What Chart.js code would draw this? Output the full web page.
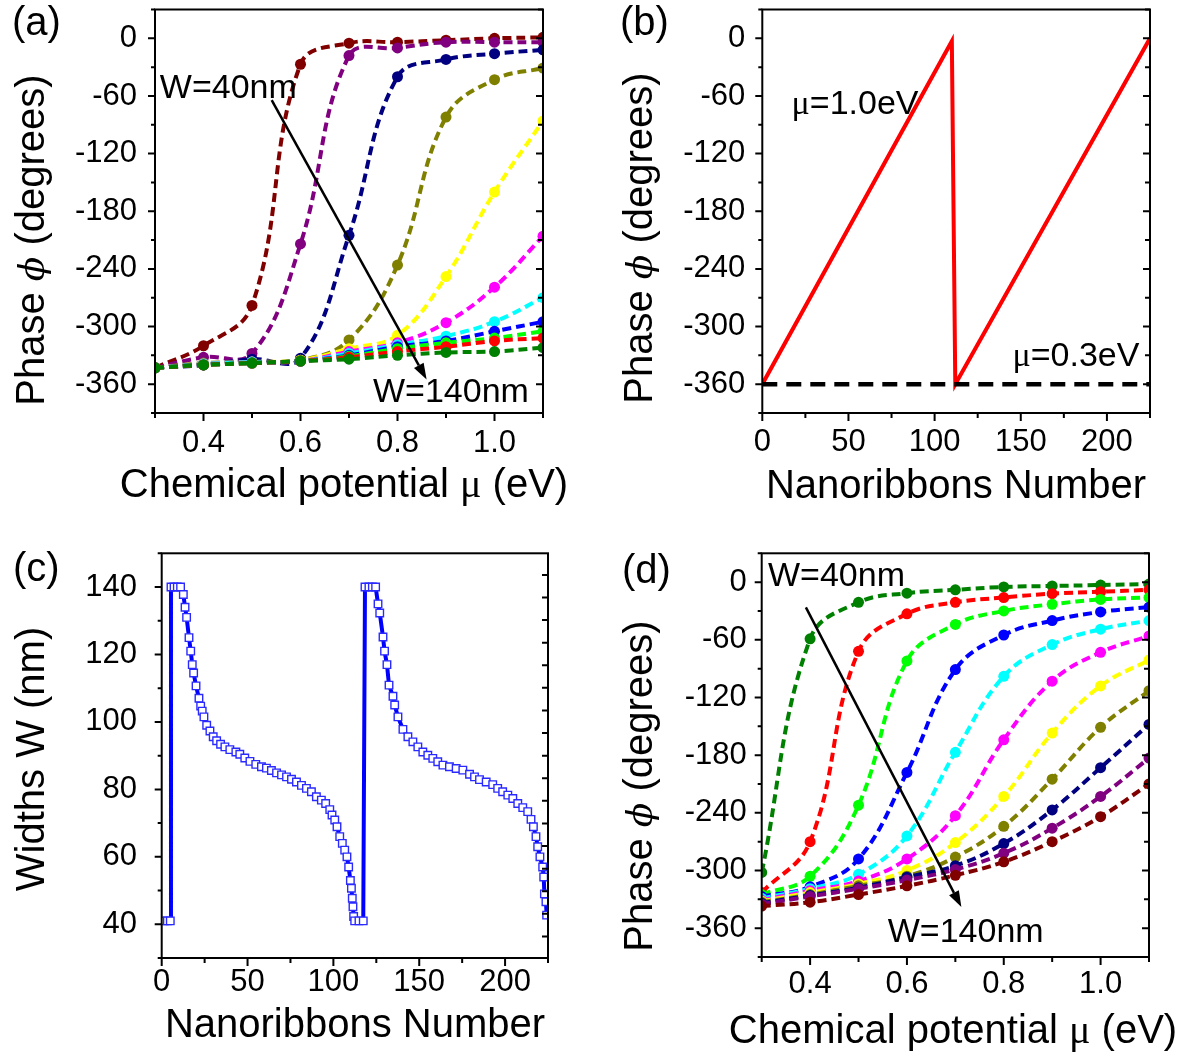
<!DOCTYPE html>
<html>
<head>
<meta charset="utf-8">
<title>Phase and width of graphene nanoribbons</title>
<script src="https://cdn.jsdelivr.net/npm/chart.js@4.4.1/dist/chart.umd.min.js"></script>
<style>
  html, body { margin: 0; padding: 0; background: #fff; }
  #fig { position: relative; width: 1195px; height: 1057px; }
  #fig canvas { position: absolute; }
</style>
</head>
<body>
<div id="fig">
  <canvas id="chartA" width="597" height="528" style="left:0;top:0"></canvas>
  <canvas id="chartB" width="598" height="528" style="left:597px;top:0"></canvas>
  <canvas id="chartC" width="597" height="529" style="left:0;top:528px"></canvas>
  <canvas id="chartD" width="598" height="529" style="left:597px;top:528px"></canvas>
</div>
<script>
// Four panels: phase vs chemical potential (a, d), phase along the array (b)
// and the ribbon widths along the array (c).

const SANS = "'Liberation Sans', Arial, sans-serif";
const SERIF = "'Liberation Serif', 'Times New Roman', serif";

const muValues = [0.3, 0.4, 0.5, 0.6, 0.7, 0.8, 0.9, 1.0, 1.1];
const widthLabels = ['40', '50', '60', '70', '80', '90', '100', '110', '120', '130', '140'];

// (a) phase in degrees, rows go from W=40nm to W=140nm
const phaseA = [
  [-343, -320, -278, -27, -5, -4, -2, 0, 1],
  [-343, -332, -328, -214, -18, -10, -4, -4, -4],
  [-343, -340, -334, -333, -205, -40, -22, -16, -12],
  [-343, -338, -337, -335, -314, -236, -82, -43, -31],
  [-343, -339, -337, -335, -323, -309, -248, -160, -86],
  [-343, -339, -337, -336, -326, -317, -296, -259, -206],
  [-343, -339, -337, -336, -328, -319, -310, -295, -270],
  [-343, -340, -338, -336, -330, -321, -315, -305, -295],
  [-343, -340, -338, -336, -331, -323, -317, -312, -305],
  [-343, -340, -338, -336, -332, -326, -321, -315, -312],
  [-343, -340, -338, -336, -334, -330, -327, -326, -322]
];
const colorsA = ['#800000', '#800080', '#000080', '#808000', '#ffff00', '#ff00ff',
                 '#00ffff', '#0000ff', '#00ff00', '#ff0000', '#008000'];

// (d) phase in degrees, rows go from W=40nm to W=140nm
const phaseD = [
  [-302, -59, -21, -11.5, -8, -5, -4, -3, -2],
  [-323, -270, -72, -33, -21, -16, -12, -10, -8],
  [-325, -306, -232, -82, -44, -30, -23, -18, -16],
  [-327, -317, -288, -198, -91, -55, -40, -31, -26],
  [-329, -319, -304, -264, -177, -98, -65, -49, -40],
  [-331, -321, -311, -288, -243, -164, -103, -73, -56],
  [-332, -323, -314, -300, -271, -223, -157, -108, -81],
  [-333, -325, -316, -306, -286, -254, -205, -151, -113],
  [-334, -326, -318, -307, -295, -272, -237, -193, -148],
  [-335, -327, -319, -310, -299, -282, -256, -223, -183],
  [-337, -333, -325, -316, -305, -291, -270, -244, -210]
];
const colorsD = ['#008000', '#ff0000', '#00ff00', '#0000ff', '#00ffff', '#ff00ff',
                 '#ffff00', '#808000', '#000080', '#800080', '#800000'];

// (b) phase along the array for two chemical potentials
const ribbonB10 = [0, 110, 112, 225];
const phaseB10 = [-360, -3, -360, 0];
const ribbonB03 = [0, 225];
const phaseB03 = [-360, -360];

// (c) widths along the array
const ribbonC = [1.4, 3.3, 5.0, 5.4, 7.2, 9.1, 11.0, 12.6, 13.6, 14.5, 15.9, 16.9, 17.8, 18.6, 20.0,
  21.7, 22.7, 23.6, 24.6, 26.2, 28.1, 30.0, 32.0, 34.3, 36.8, 39.7, 43.2, 45.5, 48.4, 51.4, 54.8,
  58.1, 61.0, 63.9, 66.9, 69.8, 72.7, 75.6, 78.5, 81.4, 84.3, 87.2, 90.1, 93.0, 95.5, 97.9, 99.2,
  100.8, 102.1, 103.7, 105.2, 106.6, 107.9, 108.9, 109.9, 110.5, 111.0, 111.4, 111.8, 112.4, 114.9,
  117.4, 118.4, 120.7, 122.7, 124.6, 126.0, 127.0, 128.9, 129.8, 131.2, 132.4, 134.7, 135.7, 137.6,
  140.5, 143.4, 146.3, 149.2, 152.1, 155.0, 157.9, 160.8, 163.8, 167.6, 171.5, 175.4, 179.3, 182.2,
  185.1, 189.0, 192.8, 195.7, 198.6, 201.6, 204.5, 207.4, 210.3, 213.2, 215.1, 216.5, 218.0, 219.0,
  220.3, 221.9, 222.5, 222.9, 223.8, 224.2];
const widthC = [41, 41, 41, 140, 140, 140, 140, 137.8, 134, 131, 125, 121, 117, 114.5, 110.7,
  107, 104.7, 103.2, 101.5, 99, 97.3, 95.6, 94.4, 93.4, 92.6, 91.8, 91.1, 90.4, 89.3, 88.3, 87.4,
  86.7, 86.3, 85.6, 84.9, 84.3, 83.7, 83, 82.2, 81.2, 80.3, 79.3, 77.8, 76.8, 75.8, 74, 72.4,
  70.9, 68.9, 66, 64, 62, 60, 57, 53, 50.7, 47.7, 45.2, 42.3, 41, 41,
  41, 140, 140, 140, 140, 135, 132.3, 125.2, 121, 117, 110.9, 107.6, 105, 101.5,
  97.8, 95.6, 94.1, 92.6, 91.1, 90.1, 89.2, 88.2, 87.2, 86.7, 86.2, 85.7, 84.5, 83.7,
  82.9, 82.2, 81.4, 80.3, 79.3, 78.3, 77.3, 75.8, 74.6, 73.4, 71.1, 68.9, 66, 63,
  60, 57, 54, 49, 46.7, 42.7];

// tick values
const phaseTicks = [0, -60, -120, -180, -240, -300, -360];
const phaseMinor = [30, -30, -90, -150, -210, -270, -330, -390];
const muTicks = [0.4, 0.6, 0.8, 1.0];
const muMinor = [0.3, 0.5, 0.7, 0.9, 1.1];
const ribbonTicks = [0, 50, 100, 150, 200];
const ribbonMinor = [25, 75, 125, 175, 225];
const widthTicks = [40, 60, 80, 100, 120, 140];
const widthMinor = [30, 50, 70, 90, 110, 130, 150];
const widthRightTicks = [143.6, 136.9, 130.2, 123.5, 116.8, 110.1, 103.4, 96.7, 90, 83.3,
  76.6, 69.9, 63.2, 56.5, 49.8, 43.1, 36.4];

// Frame round the plot area, ticks out on left/bottom and in on the right.
const framePlugin = {
  id: 'frame',
  afterDatasetsDraw(chart, args, o) {
    const { ctx, chartArea: a, scales: { x, y } } = chart;
    ctx.save();
    ctx.strokeStyle = '#000';
    ctx.lineWidth = 2;
    ctx.beginPath();
    const seg = (x1, y1, x2, y2) => { ctx.moveTo(x1, y1); ctx.lineTo(x2, y2); };
    o.xMajor.forEach(v => { const p = x.getPixelForValue(v); seg(p, a.bottom, p, a.bottom + 8); });
    o.xMinor.forEach(v => { const p = x.getPixelForValue(v); seg(p, a.bottom, p, a.bottom + 5); });
    o.yMajor.forEach(v => { const p = y.getPixelForValue(v); seg(a.left - 7, p, a.left, p); });
    o.yMinor.forEach(v => { const p = y.getPixelForValue(v); seg(a.left - 4, p, a.left, p); });
    if (o.yRight) {
      o.yRight.forEach(v => { const p = y.getPixelForValue(v); seg(a.right - 6, p, a.right, p); });
    } else {
      o.yMajor.forEach(v => { const p = y.getPixelForValue(v); seg(a.right - 7, p, a.right, p); });
      o.yMinor.forEach(v => { const p = y.getPixelForValue(v); seg(a.right - 5, p, a.right, p); });
    }
    ctx.stroke();
    ctx.strokeRect(a.left, a.top, a.right - a.left, a.bottom - a.top);
    ctx.restore();
  }
};

// Text drawn in pieces so that greek letters can use their own font.
function drawRich(ctx, parts, x, y, align, rotate) {
  ctx.save();
  ctx.translate(x, y);
  if (rotate) ctx.rotate(-Math.PI / 2);
  ctx.textBaseline = 'alphabetic';
  ctx.textAlign = 'left';
  ctx.fillStyle = '#000';
  let total = 0;
  parts.forEach(p => { ctx.font = p[1]; total += ctx.measureText(p[0]).width; });
  let cx = align === 'center' ? -total / 2 : 0;
  parts.forEach(p => {
    ctx.font = p[1];
    ctx.fillText(p[0], cx, 0);
    cx += ctx.measureText(p[0]).width;
  });
  ctx.restore();
}

// Panel letter, axis titles, notes and arrows.
const textPlugin = {
  id: 'texts',
  afterDraw(chart, args, o) {
    const { ctx, scales: { x, y } } = chart;
    drawRich(ctx, [[o.letter, '40px ' + SANS]], o.letterPos[0], o.letterPos[1], 'left', false);
    drawRich(ctx, o.xTitle, o.xTitlePos[0], o.xTitlePos[1], 'center', false);
    drawRich(ctx, o.yTitle, o.yTitlePos[0], o.yTitlePos[1], 'center', true);
    (o.notes || []).forEach(n => {
      drawRich(ctx, n.parts, x.getPixelForValue(n.x), y.getPixelForValue(n.y), 'left', false);
    });
    (o.arrows || []).forEach(ar => {
      const x1 = x.getPixelForValue(ar.from[0]), y1 = y.getPixelForValue(ar.from[1]);
      const x2 = x.getPixelForValue(ar.to[0]), y2 = y.getPixelForValue(ar.to[1]);
      const ang = Math.atan2(y2 - y1, x2 - x1);
      const head = 16, half = 5.5;
      ctx.save();
      ctx.strokeStyle = '#000';
      ctx.fillStyle = '#000';
      ctx.lineWidth = 2.5;
      ctx.beginPath();
      ctx.moveTo(x1, y1);
      ctx.lineTo(x2 - head * Math.cos(ang), y2 - head * Math.sin(ang));
      ctx.stroke();
      ctx.beginPath();
      ctx.moveTo(x2, y2);
      ctx.lineTo(x2 - head * Math.cos(ang) + half * Math.sin(ang), y2 - head * Math.sin(ang) - half * Math.cos(ang));
      ctx.lineTo(x2 - head * Math.cos(ang) - half * Math.sin(ang), y2 - head * Math.sin(ang) + half * Math.cos(ang));
      ctx.closePath();
      ctx.fill();
      ctx.restore();
    });
  }
};

const phaseTitle = [['Phase ', '40px ' + SANS], ['\u03d5', "italic 36px 'DejaVu Serif', serif"], [' (degrees)', '40px ' + SANS]];
const muTitle = [['Chemical potential ', '40px ' + SANS], ['\u03bc', '40px ' + SERIF], [' (eV)', '40px ' + SANS]];
const ribbonTitle = [['Nanoribbons Number', '40px ' + SANS]];
const widthTitle = [['Widths W (nm)', '40px ' + SANS]];

function axis(min, max, ticks, fmt, size, pad) {
  return {
    type: 'linear', min, max,
    grid: { display: false, drawTicks: false },
    border: { display: false },
    afterBuildTicks: s => { s.ticks = ticks.map(v => ({ value: v })); },
    afterFit: s => {
      if (s.isHorizontal()) s.height = size; else s.width = size;
      s.paddingTop = 0; s.paddingBottom = 0; s.paddingLeft = 0; s.paddingRight = 0;
    },
    ticks: {
      color: '#000', padding: pad, autoSkip: false, maxRotation: 0,
      font: { family: SANS, size: 31 },
      callback: v => fmt(v)
    }
  };
}

function phaseDatasets(rows, colors) {
  return rows.map((row, i) => ({
    label: 'W=' + widthLabels[i] + 'nm',
    data: row.map((v, k) => ({ x: muValues[k], y: v })),
    borderColor: colors[i],
    backgroundColor: colors[i],
    borderWidth: 4,
    borderDash: [9, 5],
    pointRadius: 5.5,
    pointBorderWidth: 0,
    pointBackgroundColor: colors[i],
    tension: 0.4,
    order: rows.length - i
  }));
}

function makeChart(id, datasets, scales, padding, frame, texts) {
  return new Chart(document.getElementById(id), {
    type: 'line',
    data: { datasets },
    options: {
      responsive: false,
      animation: false,
      events: [],
      layout: { padding },
      scales,
      plugins: { legend: { display: false }, tooltip: { enabled: false }, frame, texts }
    },
    plugins: [framePlugin, textPlugin]
  });
}

const fmtMu = v => v.toFixed(1);
const fmtInt = v => String(v);

// (a)
makeChart('chartA', phaseDatasets(phaseA, colorsA), {
  x: axis(0.3, 1.1, muTicks, fmtMu, 115, 12),
  y: axis(-390, 30, phaseTicks, fmtInt, 155, 18)
}, { left: 0, top: 9.5, right: 54, bottom: 0 },
{ xMajor: muTicks, xMinor: muMinor, yMajor: phaseTicks, yMinor: phaseMinor },
{
  letter: '(a)', letterPos: [12, 35],
  xTitle: muTitle, xTitlePos: [344, 497],
  yTitle: phaseTitle, yTitlePos: [44, 240],
  notes: [
    { parts: [['W=40nm', '34px ' + SANS]], x: 0.31, y: -62.6 },
    { parts: [['W=140nm', '34px ' + SANS]], x: 0.7495, y: -379 }
  ],
  arrows: [{ from: [0.5406, -64.4], to: [0.86, -355] }]
});

// (b)
makeChart('chartB', [
  {
    label: 'mu=0.3eV',
    data: ribbonB03.map((n, i) => ({ x: n, y: phaseB03[i] })),
    borderColor: '#000', borderWidth: 4.5, borderDash: [15, 9], pointRadius: 0, tension: 0
  },
  {
    label: 'mu=1.0eV',
    data: ribbonB10.map((n, i) => ({ x: n, y: phaseB10[i] })),
    borderColor: '#ff0000', borderWidth: 4, pointRadius: 0, tension: 0
  }
], {
  x: axis(0, 225, ribbonTicks, fmtInt, 115, 10.5),
  y: axis(-390, 30, phaseTicks, fmtInt, 165.3, 17)
}, { left: 0, top: 9.5, right: 45, bottom: 0 },
{ xMajor: ribbonTicks, xMinor: ribbonMinor, yMajor: phaseTicks, yMinor: phaseMinor },
{
  letter: '(b)', letterPos: [23, 35],
  xTitle: ribbonTitle, xTitlePos: [359, 498],
  yTitle: phaseTitle, yTitlePos: [55, 238],
  notes: [
    { parts: [['\u03bc', '34px ' + SERIF], ['=1.0eV', '34px ' + SANS]], x: 17, y: -78.5 },
    { parts: [['\u03bc', '34px ' + SERIF], ['=0.3eV', '34px ' + SANS]], x: 145.2, y: -341.5 }
  ]
});

// (c)
makeChart('chartC', [{
  label: 'W',
  data: ribbonC.map((n, i) => ({ x: n, y: widthC[i] })),
  borderColor: '#0000ff', borderWidth: 4, tension: 0,
  pointStyle: 'rect', pointRadius: 5.3, pointBorderWidth: 1.4,
  pointBorderColor: '#2a2aff', pointBackgroundColor: '#ffffff'
}], {
  x: axis(0, 225, ribbonTicks, fmtInt, 99, 5.5),
  y: axis(30, 150, widthTicks, fmtInt, 161.7, 24.7)
}, { left: 0, top: 25.3, right: 49, bottom: 0 },
{ xMajor: ribbonTicks, xMinor: ribbonMinor, yMajor: widthTicks, yMinor: widthMinor, yRight: widthRightTicks },
{
  letter: '(c)', letterPos: [13, 53],
  xTitle: ribbonTitle, xTitlePos: [355, 509],
  yTitle: widthTitle, yTitlePos: [44, 231]
});

// (d)
makeChart('chartD', phaseDatasets(phaseD, colorsD), {
  x: axis(0.3, 1.1, muTicks, fmtMu, 100, 9),
  y: axis(-390, 30, phaseTicks, fmtInt, 164.7, 15)
}, { left: 0, top: 25.3, right: 46, bottom: 0 },
{ xMajor: muTicks, xMinor: muMinor, yMajor: phaseTicks, yMinor: phaseMinor },
{
  letter: '(d)', letterPos: [25, 55],
  xTitle: muTitle, xTitlePos: [356, 515],
  yTitle: phaseTitle, yTitlePos: [55, 258],
  notes: [
    { parts: [['W=40nm', '34px ' + SANS]], x: 0.313, y: -4.4 },
    { parts: [['W=140nm', '34px ' + SANS]], x: 0.5604, y: -374.5 }
  ],
  arrows: [{ from: [0.3913, -26.2], to: [0.7124, -338] }]
});
</script>
</body>
</html>
